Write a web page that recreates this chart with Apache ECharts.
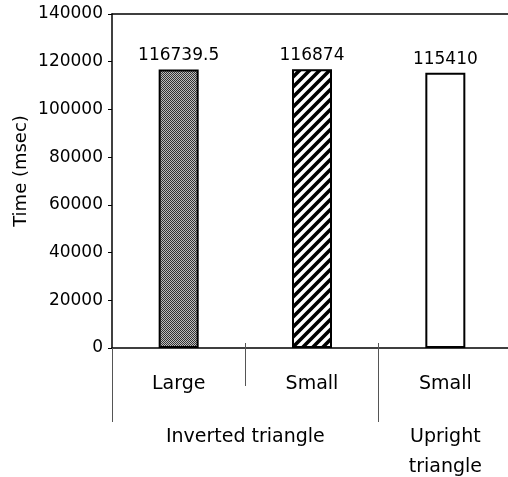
<!DOCTYPE html>
<html>
<head>
<meta charset="utf-8">
<script src="https://cdn.jsdelivr.net/npm/echarts@6/dist/echarts.min.js"></script>
<style>
  html, body { margin: 0; padding: 0; background: #fff; }
  #chart { width: 508px; height: 477px; }
</style>
</head>
<body>
<div id="chart"></div>
<script>
// bar data
var categories = ["Large", "Small", "Small"];
var times = [116739.5, 116874, 115410];
// grouping under the bars
var groupNames = ["Inverted triangle", "Upright\ntriangle"];
var groupCenters = [1, 2.5];
var groupBounds = [0, 2];
var innerBounds = [1, 2];
var yTitle = "Time (msec)";

var FONT = "DejaVu Sans";

// fill patterns
function stipple() {
  var c = document.createElement("canvas");
  c.width = 2; c.height = 2;
  var ctx = c.getContext("2d");
  ctx.fillStyle = "#bdbdbd";
  ctx.fillRect(0, 0, 2, 2);
  ctx.fillStyle = "#333";
  ctx.fillRect(0, 0, 1, 1);
  ctx.fillRect(1, 1, 1, 1);
  return c;
}
function hatch() {
  var s = 10;
  var c = document.createElement("canvas");
  c.width = s; c.height = s;
  var ctx = c.getContext("2d");
  ctx.fillStyle = "#fff";
  ctx.fillRect(0, 0, s, s);
  ctx.strokeStyle = "#000";
  ctx.lineWidth = 3.6;
  ctx.beginPath();
  ctx.moveTo(-2, s + 2); ctx.lineTo(s + 2, -2);
  ctx.moveTo(-2, 2); ctx.lineTo(2, -2);
  ctx.moveTo(s - 2, s + 2); ctx.lineTo(s + 2, s - 2);
  ctx.stroke();
  return c;
}
var fills = [
  { image: stipple(), repeat: "repeat" },
  { image: hatch(), repeat: "repeat" },
  "#ffffff"
];

var myChart = echarts.init(document.getElementById("chart"));
var option = {
  animation: false,
  backgroundColor: "#fff",
  grid: { left: 112, right: -4, top: 14, bottom: 129, outerBoundsMode: "none", containLabel: false },
  xAxis: [
    {
      type: "category",
      position: "bottom",
      data: categories,
      axisLine: { lineStyle: { color: "#000", width: 1.5 } },
      axisTick: { show: false },
      axisLabel: { color: "#000", fontFamily: FONT, fontSize: 19, margin: 27 }
    },
    {
      // short separator between Large and Small
      type: "value",
      position: "bottom",
      min: 0, max: 3,
      axisLine: { show: false },
      splitLine: { show: false },
      axisTick: { show: true, customValues: innerBounds, length: 38, lineStyle: { color: "#555", width: 1 } },
      axisLabel: { show: false }
    },
    {
      // group separators + group names
      type: "value",
      position: "bottom",
      min: 0, max: 3,
      axisLine: { show: false },
      splitLine: { show: false },
      axisTick: { show: true, customValues: groupBounds, length: 74, lineStyle: { color: "#555", width: 1 } },
      axisLabel: {
        show: true,
        customValues: groupCenters,
        formatter: function (v) { return groupNames[groupCenters.indexOf(v)]; },
        color: "#000", fontFamily: FONT, fontSize: 19, lineHeight: 30, margin: 74
      }
    },
    {
      // small stubs above the axis line
      type: "value",
      position: "bottom",
      min: 0, max: 3,
      axisLine: { show: false },
      splitLine: { show: false },
      axisTick: { show: true, inside: true, customValues: innerBounds, length: 5, lineStyle: { color: "#555", width: 1 } },
      axisLabel: { show: false }
    },
    {
      // top frame line
      type: "category",
      position: "top",
      data: categories,
      axisLine: { lineStyle: { color: "#000", width: 1.5 } },
      axisTick: { show: false },
      axisLabel: { show: false }
    }
  ],
  yAxis: {
    type: "value",
    min: 0,
    max: 140000,
    interval: 20000,
    axisLine: { show: true, lineStyle: { color: "#000", width: 1.5 } },
    axisTick: { show: true, length: 4, lineStyle: { color: "#000" } },
    splitLine: { show: false },
    axisLabel: {
      color: "#000", fontFamily: FONT, fontSize: 17, margin: 9,
      formatter: function (v) { return String(v); }
    }
  },
  graphic: [
    {
      type: "text",
      x: 21, y: 171,
      rotation: Math.PI / 2,
      style: { text: yTitle, font: "18px " + FONT, fill: "#000", textAlign: "center", textVerticalAlign: "middle" }
    }
  ],
  series: [
    {
      type: "bar",
      xAxisIndex: 0,
      barWidth: 40,
      data: times.map(function (v, i) {
        return { value: v, itemStyle: { color: fills[i] } };
      }),
      itemStyle: { borderColor: "#000", borderWidth: 2 },
      label: {
        show: true,
        position: "top",
        distance: 5,
        color: "#000",
        fontFamily: FONT,
        fontSize: 17
      }
    }
  ]
};
myChart.setOption(option);
</script>
</body>
</html>
